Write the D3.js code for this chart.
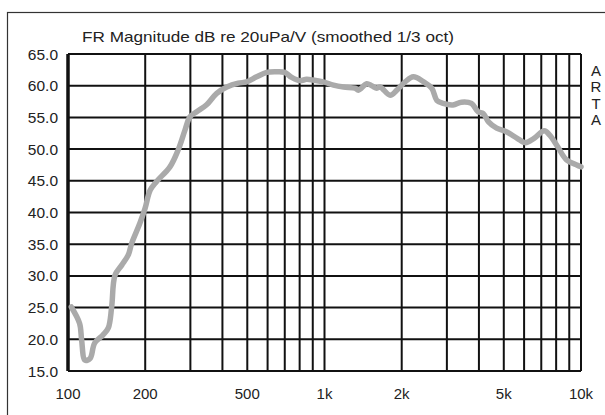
<!DOCTYPE html>
<html>
<head>
<meta charset="utf-8">
<script src="https://cdn.jsdelivr.net/npm/d3@7"></script>
<style>
  body { margin: 0; background: #fff; }
  svg { display: block; font-family: "Liberation Sans", Arial, sans-serif; }
</style>
</head>
<body>
<svg id="chart" width="605" height="415"></svg>
<script>
// frequency response
const freq = [103, 111, 113, 116.5, 122, 127, 137, 143.6, 148, 152.5, 162, 171.8, 177, 190.6,
  199.6, 209, 221.6, 249.7, 269, 285.8, 299, 317.6, 347, 380, 416, 461, 497, 544, 595, 651,
  700, 745, 801, 851, 900, 989, 1084, 1187, 1316, 1356, 1460, 1528, 1600, 1647, 1803, 1915,
  2063, 2220, 2434, 2620, 2740, 2900, 3170, 3420, 3740, 3970, 4160, 4360, 4690, 5140, 5640,
  6080, 6560, 7190, 7550, 8100, 8780, 9630, 10000];
const level = [25.1, 22.5, 19.9, 16.7, 17.0, 19.4, 20.7, 21.8, 25.1, 30.1, 31.7, 33.3, 35.1, 38.3,
  40.6, 43.5, 44.9, 47.2, 49.9, 53.0, 55.1, 55.9, 57.0, 58.8, 59.8, 60.4, 60.6, 61.4, 62.1, 62.2,
  62.1, 61.3, 60.8, 61.0, 60.9, 60.6, 60.1, 59.8, 59.6, 59.3, 60.3, 60.0, 59.6, 59.8, 58.5, 59.3,
  60.6, 61.4, 60.6, 59.6, 57.7, 57.2, 56.96, 57.4, 57.2, 55.9, 55.6, 54.3, 53.3, 52.7, 51.7,
  51.0, 51.7, 52.9, 52.2, 50.4, 48.3, 47.5, 47.2];

const yTicks = [15, 20, 25, 30, 35, 40, 45, 50, 55, 60, 65];
const xGrid = [100, 200, 300, 400, 500, 600, 700, 800, 900, 1000,
  2000, 3000, 4000, 5000, 6000, 7000, 8000, 9000, 10000];
const xLabels = [100, 200, 500, 1000, 2000, 5000, 10000];
const xLabelText = ["100", "200", "500", "1k", "2k", "5k", "10k"];

const title = "FR Magnitude dB re 20uPa/V (smoothed 1/3 oct)";

function main() {
  const svg = d3.select("#chart");
  const left = 68, right = 581, top = 54, bottom = 371;

  const x = d3.scaleLog().domain([100, 10000]).range([left, right]);
  const y = d3.scaleLinear().domain([15, 65]).range([bottom, top]);

  // outer frame, runs off the right and bottom edges
  svg.append("rect")
    .attr("x", 7.5).attr("y", 12.5)
    .attr("width", 700).attr("height", 500)
    .attr("fill", "none").attr("stroke", "#333").attr("stroke-width", 1.2);

  svg.append("text")
    .attr("x", 82).attr("y", 42)
    .attr("font-size", 15).attr("fill", "#222")
    .attr("textLength", 372).attr("lengthAdjust", "spacingAndGlyphs")
    .text(title);

  const grid = svg.append("g").attr("stroke", "#111").attr("stroke-width", 2);

  grid.selectAll("line.h")
    .data(yTicks).enter()
    .append("line")
      .attr("x1", left).attr("x2", right)
      .attr("y1", d => y(d)).attr("y2", d => y(d));

  grid.selectAll("line.v")
    .data(xGrid).enter()
    .append("line")
      .attr("x1", d => x(d)).attr("x2", d => x(d))
      .attr("y1", top).attr("y2", bottom)
      .attr("stroke-width", d => d === 100 ? 3.5 : 2);

  // y labels
  svg.append("g")
    .selectAll("text")
    .data(yTicks).enter()
    .append("text")
      .attr("x", 58).attr("y", d => y(d))
      .attr("dy", "0.36em")
      .attr("text-anchor", "end")
      .attr("font-size", 15.5).attr("fill", "#222")
      .text(d => d.toFixed(1));

  // x labels
  svg.append("g")
    .selectAll("text")
    .data(xLabels).enter()
    .append("text")
      .attr("x", d => x(d)).attr("y", 398.5)
      .attr("text-anchor", "middle")
      .attr("font-size", 15).attr("fill", "#222")
      .text((d, i) => xLabelText[i]);

  // ARTA
  svg.append("g")
    .selectAll("text")
    .data(["A", "R", "T", "A"]).enter()
    .append("text")
      .attr("x", 596).attr("y", (d, i) => 75.5 + i * 16.5)
      .attr("text-anchor", "middle")
      .attr("font-size", 15).attr("fill", "#222")
      .text(d => d);

  const pts = freq.map((f, i) => [f, level[i]]);
  const line = d3.line()
    .x(d => x(d[0]))
    .y(d => y(d[1]))
    .curve(d3.curveCatmullRom);

  svg.append("path")
    .datum(pts)
    .attr("d", line)
    .attr("fill", "none")
    .attr("stroke", "#aaa")
    .attr("stroke-width", 5.5)
    .attr("stroke-linejoin", "round")
    .attr("stroke-linecap", "round");
}

window.addEventListener("load", main);
</script>
</body>
</html>
